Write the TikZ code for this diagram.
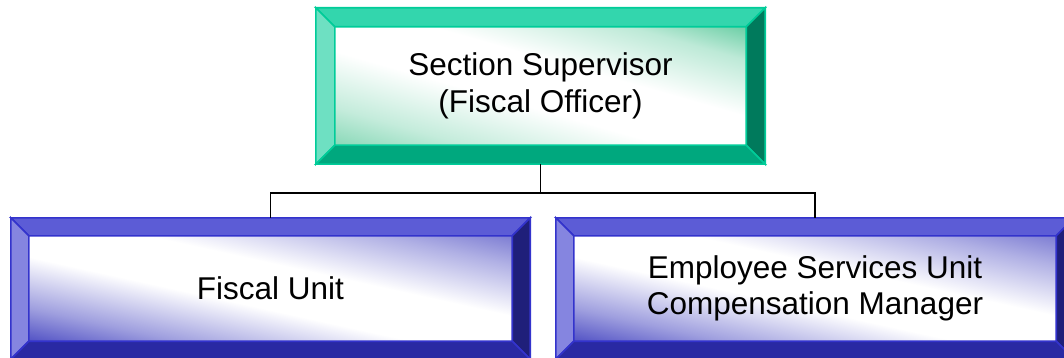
\documentclass[tikz,border=0pt]{standalone}
\usepackage{fontspec}
\setmainfont{Liberation Sans}
\usetikzlibrary{calc,backgrounds}
\definecolor{gline}{HTML}{00CC99}
\definecolor{gtop}{HTML}{33D6AD}
\definecolor{gleft}{HTML}{6EE0C2}
\definecolor{gright}{HTML}{007A5C}
\definecolor{gbot}{HTML}{00A87E}
\definecolor{gshade}{HTML}{6CCFA6}
\definecolor{bline}{HTML}{3333CC}
\definecolor{btop}{HTML}{5C5CD6}
\definecolor{bleft}{HTML}{8585E0}
\definecolor{bright}{HTML}{1F1F7A}
\definecolor{bbot}{HTML}{2929A3}
\definecolor{bshade}{HTML}{5050C4}
\pgfdeclarehorizontalshading{blueglow}{100bp}{color(0bp)=(bshade); color(25bp)=(bshade); color(33bp)=(bshade!55!white); color(45bp)=(white); color(56bp)=(white); color(68bp)=(bshade!45!white); color(75bp)=(bshade!75!white); color(100bp)=(bshade!75!white)}
\pgfdeclarehorizontalshading{greenglow}{100bp}{color(0bp)=(gshade!80!white); color(25bp)=(gshade!80!white); color(33bp)=(gshade!40!white); color(45bp)=(white); color(56bp)=(white); color(68bp)=(gshade!45!white); color(75bp)=(gshade); color(100bp)=(gshade)}
\tikzset{
  orgbox/.style={rectangle, inner sep=0pt, align=center, font=\fontsize{31.5}{36.5}\selectfont},
  conn/.style={draw=black, line width=1.5pt}
}
% node, bevel, shading name, angle, half extent
\newcommand\glowfill[5]{%
  \begin{pgfonlayer}{background}
  \begin{scope}
  \clip ($(#1.north west)+(#2,-#2)$) rectangle ($(#1.south east)+(-#2,#2)$);
  \begin{scope}[transform canvas={rotate around={#4:(#1.center)}}]
  \shade[shading=#3] ($(#1.center)+(-#5,-320)$) rectangle ($(#1.center)+(#5,320)$);
  \end{scope}
  \end{scope}
  \end{pgfonlayer}}
\newcommand\bevelframe[7]{% node, bevel, line, top, left, right, bottom
  \begin{scope}[draw=#3, line width=1.6pt, line join=miter]
  \filldraw[fill=#4] (#1.north west) -- (#1.north east) -- ($(#1.north east)+(-#2,-#2)$) -- ($(#1.north west)+(#2,-#2)$) -- cycle;
  \filldraw[fill=#5] (#1.north west) -- ($(#1.north west)+(#2,-#2)$) -- ($(#1.south west)+(#2,#2)$) -- (#1.south west) -- cycle;
  \filldraw[fill=#6] (#1.north east) -- (#1.south east) -- ($(#1.south east)+(-#2,#2)$) -- ($(#1.north east)+(-#2,-#2)$) -- cycle;
  \filldraw[fill=#7] (#1.south west) -- ($(#1.south west)+(#2,#2)$) -- ($(#1.south east)+(-#2,#2)$) -- (#1.south east) -- cycle;
  \end{scope}}
\begin{document}
\begin{tikzpicture}[x=1pt,y=1pt]
\useasboundingbox (0,0) rectangle (1064,-358);
\clip (0,0) rectangle (1064,-358);
\node[orgbox, minimum width=449pt, minimum height=156pt] (sup) at (540.5,-86) {Section Supervisor\\(Fiscal Officer)};
\glowfill{sup}{19}{greenglow}{74.1}{113}
\bevelframe{sup}{19}{gline}{gtop}{gleft}{gright}{gbot}
\node[orgbox, minimum width=519pt, minimum height=141pt] (fu) at (270.5,-288.5) {Fiscal Unit};
\glowfill{fu}{18}{blueglow}{77.6}{104}
\bevelframe{fu}{18}{bline}{btop}{bleft}{bright}{bbot}
\node[orgbox, minimum width=518pt, minimum height=141pt] (es) at (815,-288.5) {Employee Services Unit\\Compensation Manager};
\glowfill{es}{18}{blueglow}{77.6}{104}
\bevelframe{es}{18}{bline}{btop}{bleft}{bright}{bbot}
\coordinate (j) at (540.5,-193);
\draw[conn] (sup.south) -- (j);
\draw[conn] (j) -| (fu.north);
\draw[conn] (j) -| (es.north);
\end{tikzpicture}
\end{document}
